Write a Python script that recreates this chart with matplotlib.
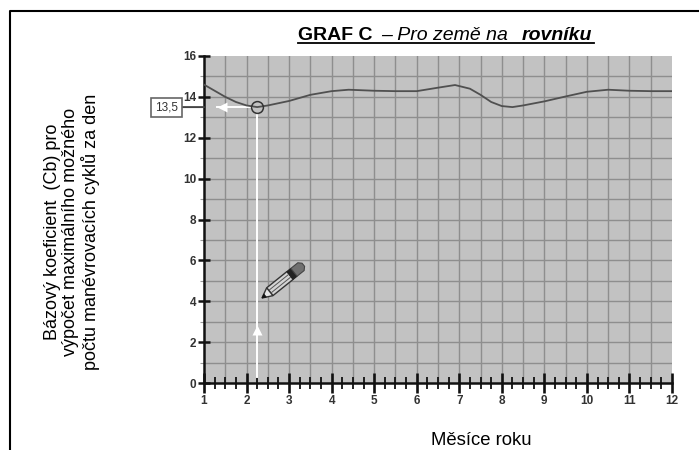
import matplotlib
matplotlib.use("Agg")
import matplotlib.pyplot as plt
from matplotlib.patches import Polygon
from matplotlib.ticker import MultipleLocator

plt.rcParams['font.family'] = ['Liberation Sans', 'DejaVu Sans']

# curve
months = [1, 1.25, 1.5, 1.75, 2, 2.25, 2.5, 3, 3.5, 4, 4.4, 5, 5.5, 6, 6.5, 6.9,
          7.25, 7.5, 7.75, 8, 8.25, 8.5, 9, 9.5, 10, 10.5, 11, 11.5, 12]
coef = [14.6, 14.3, 14.0, 13.75, 13.58, 13.5, 13.58, 13.8, 14.1, 14.28, 14.35, 14.3, 14.28, 14.28, 14.45, 14.58,
        14.4, 14.1, 13.75, 13.55, 13.5, 13.58, 13.78, 14.02, 14.25, 14.35, 14.3, 14.28, 14.28]
x_ticks = list(range(1, 13))
y_ticks = list(range(0, 17, 2))
read_month = 2.25
read_value = 13.5

fig = plt.figure(figsize=(6.99, 4.5), dpi=100)
W, H = 699, 450
ax = fig.add_axes([204 / W, (H - 383) / H, (672 - 204) / W, (383 - 56) / H])
ax.set_facecolor('#c2c2c2')
ax.set_xlim(1, 12)
ax.set_ylim(0, 16)

# grid
ax.xaxis.set_major_locator(MultipleLocator(1))
ax.xaxis.set_minor_locator(MultipleLocator(0.25))
ax.yaxis.set_major_locator(MultipleLocator(2))
ax.yaxis.set_minor_locator(MultipleLocator(1))
for v in [1 + 0.5 * i for i in range(1, 22)]:
    ax.axvline(v, color='#8e8e8e', lw=1.0, zorder=1)
for v in range(1, 16):
    ax.axhline(v, color='#8e8e8e', lw=1.0, zorder=1)

for side in ['top', 'right']:
    ax.spines[side].set_visible(False)
for side in ['left', 'bottom']:
    ax.spines[side].set_linewidth(1.8)
    ax.spines[side].set_color('#111111')

ax.set_xticks(x_ticks)
ax.set_yticks(y_ticks)
ax.tick_params(axis='x', which='major', direction='inout', length=14, width=1.9, pad=2,
               labelsize=8.5, labelcolor='#333333', color='#111111')
ax.tick_params(axis='x', which='minor', direction='inout', length=9, width=1.3, color='#111111')
ax.tick_params(axis='y', which='major', direction='inout', length=9, width=1.8, pad=1,
               labelsize=8.5, labelcolor='#333333', color='#111111')
ax.tick_params(axis='y', which='minor', direction='out', length=3, width=0.8, color='#999999')
for lab in ax.get_xticklabels() + ax.get_yticklabels():
    lab.set_fontweight('bold')

# curve
ax.plot(months, coef, color='#505050', lw=1.3, zorder=3)

# white reading lines
ax.plot([read_month, read_month], [0.3, read_value - 0.35], color='white', lw=1.4, zorder=2)
ax.plot([1.3, read_month - 0.12], [read_value, read_value], color='white', lw=1.4, zorder=2)
ax.plot([read_month], [2.6], marker='^', ms=7, color='white', mec='none', zorder=4)
ax.plot([1.42], [read_value], marker='<', ms=7, color='white', mec='none', zorder=4)
ax.plot([read_month], [read_value], marker='o', ms=8.5, mfc='none', mec='#333333', mew=1.1, zorder=5)

# value box with its leader
ax.annotate(str(read_value).replace('.', ','), xy=(1.0, read_value), xycoords='data',
            xytext=(-27, 0), textcoords='offset points', ha='center', va='center',
            fontsize=8.5, color='#333333', annotation_clip=False,
            bbox=dict(boxstyle='square,pad=0.3', fc='white', ec='#666666', lw=1.2),
            arrowprops=dict(arrowstyle='-', color='#444444', lw=1.4, shrinkA=0, shrinkB=0))


# pencil: drawn along its own length from the tip, s along, t across (pixels)
def pencil_pt(s, t):
    px = 262 + s * 0.78 + t * 0.627
    py = 298 - s * 0.627 + t * 0.78
    return (1 + (px - 204) / 42.55, (383 - py) / 20.44)


def pencil_part(corners, **kw):
    ax.add_patch(Polygon([pencil_pt(s, t) for s, t in corners], closed=True, zorder=5, **kw))


pencil_part([(10, -5), (36, -5), (36, 5), (10, 5)], fc='#d4d4d4', ec='#333333', lw=1)
pencil_part([(0, 0), (10, -5), (10, 5)], fc='#e6e6e6', ec='#333333', lw=1)
pencil_part([(0, 0), (4, -2), (4, 2)], fc='#111111', ec='#111111', lw=0.5)
pencil_part([(36, -5), (41, -5), (41, 5), (36, 5)], fc='#222222', ec='#222222', lw=0.8)
pencil_part([(41, -5), (50, -5), (53, -2), (53, 2), (50, 5), (41, 5)], fc='#707070', ec='#444444', lw=0.8)
for t in [-1.7, 1.7]:
    a, b = pencil_pt(11, t), pencil_pt(35, t)
    ax.plot([a[0], b[0]], [a[1], b[1]], color='#555555', lw=0.7, zorder=6)

# title in three styles, underlined as one
fig.text(298 / W, 1 - 35 / H, 'GRAF C', fontsize=14, fontweight='bold', va='center', color='black')
fig.text(381 / W, 1 - 35 / H, '– Pro země na', fontsize=14, fontstyle='italic', va='center')
fig.text(522 / W, 1 - 35 / H, 'rovníku', fontsize=14, fontweight='bold', fontstyle='italic', va='center')
fig.add_artist(plt.Line2D([298 / W, 594 / W], [1 - 43 / H, 1 - 43 / H], color='black', lw=1.3))

fig.text(72 / W, 1 - 232 / H, 'Bázový koeficient  (Cb) pro\nvýpočet maximálního možného\npočtu manévrovacích cyklů za den',
         rotation=90, ha='center', va='center', fontsize=13, linespacing=1.09, multialignment='center')
fig.text(481 / W, 1 / H, 'Měsíce roku', ha='center', va='bottom', fontsize=13.3)

# page frame: top and left only
fig.add_artist(plt.Line2D([10 / W, 10 / W, 1], [0, 1 - 10.5 / H, 1 - 10.5 / H], color='black', lw=1.5))

fig.savefig('out.png', dpi=100)
